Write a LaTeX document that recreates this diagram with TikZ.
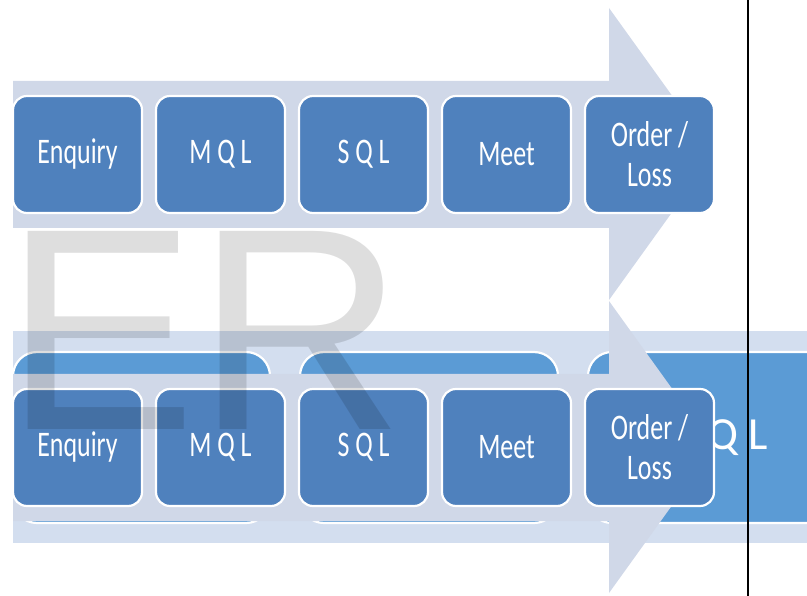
\documentclass[tikz,border=0pt]{standalone}
\usepackage{fontspec}
\setmainfont{Carlito}
\newfontfamily\boxfont{Carlito}[FakeStretch=0.72]
\newfontfamily\bigboxfont{Carlito}
\newfontfamily\wmfont{Liberation Sans}
\definecolor{arrowc}{HTML}{D0D8E8}
\definecolor{bandc}{HTML}{D3DEEF}
\definecolor{sboxc}{HTML}{4F81BD}
\definecolor{lboxc}{HTML}{5B9BD5}
\begin{document}
\begin{tikzpicture}[x=1pt,y=-1pt,
  sbox/.style={draw=white, line width=2.2pt, fill=sboxc, rounded corners=14pt,
    minimum width=129pt, minimum height=117pt, inner sep=0pt, text=white,
    font=\boxfont\fontsize{36}{40}\selectfont, align=center},
  lbox/.style={draw=white, line width=2.2pt, fill=lboxc, rounded corners=24pt,
    minimum height=171pt, inner sep=0pt, text=white,
    font=\bigboxfont\fontsize{46}{52}\selectfont, align=center},
  flowarrow/.style={fill=arrowc},
  wmark/.style={anchor=base west, inner sep=0pt, text=black, text opacity=0.13,
    font=\wmfont\fontsize{288}{288}\selectfont}
]
\clip (0,0) rectangle (807,596);
\fill[white] (0,0) rectangle (807,596);

% ---------- top process ----------
\fill[flowarrow] (13,81) -- (609,81) -- (609,8) -- (714,154) -- (609,300) -- (609,228) -- (13,228) -- cycle;
\node[sbox] (t1) at (77.5,154.5) {Enquiry};
\node[sbox] (t2) at (220.5,154.5) {M Q L};
\node[sbox] (t3) at (363.5,154.5) {S Q L};
\node[sbox] (t4) at (506.5,154.5) {Meet};
\node[sbox] (t5) at (649.5,154.5) {Order /\\Loss};

% ---------- lower band with large boxes ----------
\fill[bandc] (13,331) rectangle (820,543);
\node[lbox, minimum width=257pt] (la) at (141.5,437.5) {};
\node[lbox, minimum width=258pt] (lb) at (429,437.5) {};
\node[lbox, minimum width=268pt] (lc) at (722,437.5) {S Q L};

% ---------- lower process ----------
\fill[flowarrow] (13,374) -- (609,374) -- (609,301) -- (714,447) -- (609,593) -- (609,521) -- (13,521) -- cycle;
\node[sbox] (b1) at (77.5,447.5) {Enquiry};
\node[sbox] (b2) at (220.5,447.5) {M Q L};
\node[sbox] (b3) at (363.5,447.5) {S Q L};
\node[sbox] (b4) at (506.5,447.5) {Meet};
\node[sbox] (b5) at (649.5,447.5) {Order /\\Loss};

% ---------- watermark ----------
\node[wmark] (wm) at (4,429) {ER};

% ---------- vertical rule ----------
\coordinate (vt) at (748,0);
\coordinate (vb) at (748,596);
\draw[line width=2.5pt, black] (vt) -- (vb);
\end{tikzpicture}
\end{document}
